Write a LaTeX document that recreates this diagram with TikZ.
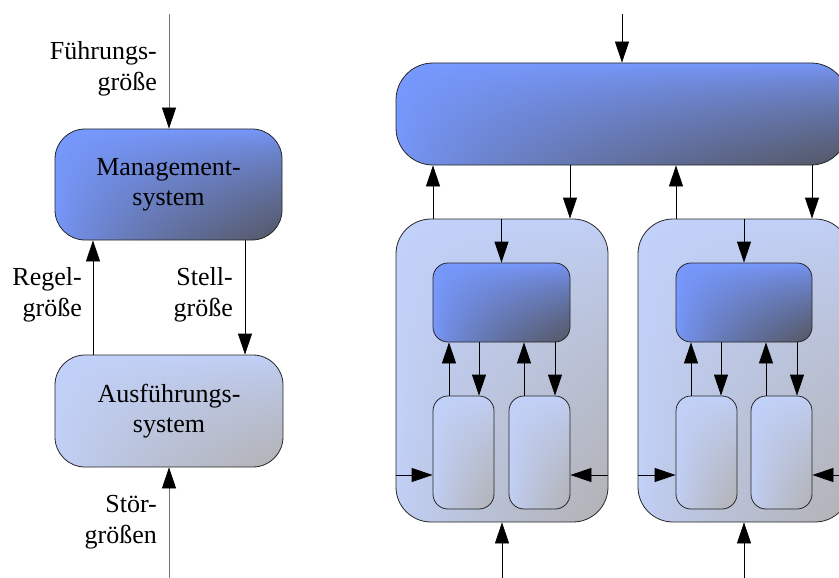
\documentclass[tikz,border=0pt]{standalone}
\usepackage{fontspec}
\setmainfont{Liberation Serif}
\usetikzlibrary{arrows.meta}

% Fills that darken towards the lower right corner.
% The path box covers the central 50bp square of the shading, so
% u = (x+25)/50 runs left->right and v = (25-y)/50 top->bottom;
% t = (u*v)^0.7 and colour = light + t*(dark - light).
\pgfdeclarefunctionalshading{darkshade}{\pgfpoint{-50bp}{-50bp}}{\pgfpoint{50bp}{50bp}}{}{%
  exch 25 add 50 div exch 25 exch sub 50 div mul abs 0.7 exp
  dup dup -0.137 mul 0.467 add exch -0.26 mul 0.600 add 3 -1 roll -0.61 mul 1.0 add}
\pgfdeclarefunctionalshading{lightshade}{\pgfpoint{-50bp}{-50bp}}{\pgfpoint{50bp}{50bp}}{}{%
  exch 25 add 50 div exch 25 exch sub 50 div mul abs 0.7 exp
  dup dup -0.06 mul 0.76 add exch -0.12 mul 0.82 add 3 -1 roll -0.27 mul 0.98 add}

\begin{document}
\begin{tikzpicture}[x=1pt,y=-1pt,
  box/.style={draw=black!85, line width=0.8pt, rounded corners=#1, inner sep=0pt},
  darkbox/.style={box=#1, shading=darkshade},
  lightbox/.style={box=#1, shading=lightshade},
  txt/.style={font=\fontsize{26}{30}\selectfont, align=center},
  lbl/.style={font=\fontsize{26}{31}\selectfont, align=right, inner sep=0pt, anchor=east},
  arr/.style={line width=0.8pt, -{Triangle[length=21pt,width=14pt,color=black]}},
  feed/.style={arr, draw=black!55}]
\useasboundingbox (0,0) rectangle (839,578);
\clip (0,0) rectangle (839,578);

% ---------- single control loop ----------
\node[darkbox=30pt, minimum width=227pt, minimum height=111pt, txt] (mgmt) at (168.5,184.5) {Management-\\system};
\node[lightbox=30pt, minimum width=228pt, minimum height=112pt, txt] (aus) at (169,411) {Ausführungs-\\system};

\coordinate (fin) at (169,14);
\coordinate (sin) at (169,578);
\coordinate (xr) at (93,0);
\coordinate (xs) at (245,0);

\draw[feed] (fin) -- (fin |- mgmt.north);
\draw[arr] (aus.north -| xr) -- (mgmt.south -| xr);
\draw[arr] (mgmt.south -| xs) -- (aus.north -| xs);
\draw[feed] (sin) -- (sin |- aus.south);

\node[lbl] (lf) at (157,68.5) {Führungs-\\größe};
\node[lbl] (lr) at (82,295) {Regel-\\größe};
\node[lbl] (ls) at (233,295) {Stell-\\größe};
\node[lbl] (ld) at (157,522.5) {Stör-\\größen};

% ---------- hierarchical structure ----------
\node[darkbox=37pt, minimum width=452pt, minimum height=102pt] (top) at (622,114) {};

\node[lightbox=35pt, minimum width=212pt, minimum height=303pt] (M1) at (502,370.5) {};
\node[lightbox=35pt, minimum width=212pt, minimum height=303pt] (M2) at (744,370.5) {};

\node[darkbox=15pt, minimum width=137pt, minimum height=79pt] (m1) at (501.5,302.5) {};
\node[lightbox=15pt, minimum width=61pt, minimum height=113pt] (m1a) at (463.5,452.5) {};
\node[lightbox=15pt, minimum width=61pt, minimum height=113pt] (m1b) at (539.5,452.5) {};

\node[darkbox=15pt, minimum width=136pt, minimum height=79pt] (m2) at (744,302.5) {};
\node[lightbox=15pt, minimum width=61pt, minimum height=113pt] (m2a) at (706.5,452.5) {};
\node[lightbox=15pt, minimum width=61pt, minimum height=113pt] (m2b) at (781.5,452.5) {};

% reference input of the top level
\coordinate (tin) at (622,14);
\draw[arr] (tin) -- (tin |- top.north);

% links between top level and the two subsystems
\coordinate (u1) at (433,0);
\coordinate (d1) at (570,0);
\coordinate (u2) at (676,0);
\coordinate (d2) at (812,0);
\draw[arr] (M1.north -| u1) -- (top.south -| u1);
\draw[arr] (top.south -| d1) -- (M1.north -| d1);
\draw[arr] (M2.north -| u2) -- (top.south -| u2);
\draw[arr] (top.south -| d2) -- (M2.north -| d2);

% inside subsystem 1
\draw[arr] (M1.north -| m1.north) -- (m1.north);
\coordinate (a1) at (449,0);
\coordinate (a2) at (479,0);
\coordinate (a3) at (524,0);
\coordinate (a4) at (555,0);
\draw[arr] (m1a.north -| a1) -- (m1.south -| a1);
\draw[arr] (m1.south -| a2) -- (m1a.north -| a2);
\draw[arr] (m1b.north -| a3) -- (m1.south -| a3);
\draw[arr] (m1.south -| a4) -- (m1b.north -| a4);

% inside subsystem 2
\draw[arr] (M2.north -| m2.north) -- (m2.north);
\coordinate (b1) at (691,0);
\coordinate (b2) at (721,0);
\coordinate (b3) at (766,0);
\coordinate (b4) at (797,0);
\draw[arr] (m2a.north -| b1) -- (m2.south -| b1);
\draw[arr] (m2.south -| b2) -- (m2a.north -| b2);
\draw[arr] (m2b.north -| b3) -- (m2.south -| b3);
\draw[arr] (m2.south -| b4) -- (m2b.north -| b4);

% disturbances entering from the sides and from below
\coordinate (ys) at (0,475);
\draw[arr] (M1.west |- ys) -- (m1a.west |- ys);
\draw[arr] (M1.east |- ys) -- (m1b.east |- ys);
\draw[arr] (M2.west |- ys) -- (m2a.west |- ys);
\draw[arr] (M2.east |- ys) -- (m2b.east |- ys);

\coordinate (s1) at (502,578);
\coordinate (s2) at (744,578);
\draw[arr] (s1) -- (s1 |- M1.south);
\draw[arr] (s2) -- (s2 |- M2.south);
\end{tikzpicture}
\end{document}
